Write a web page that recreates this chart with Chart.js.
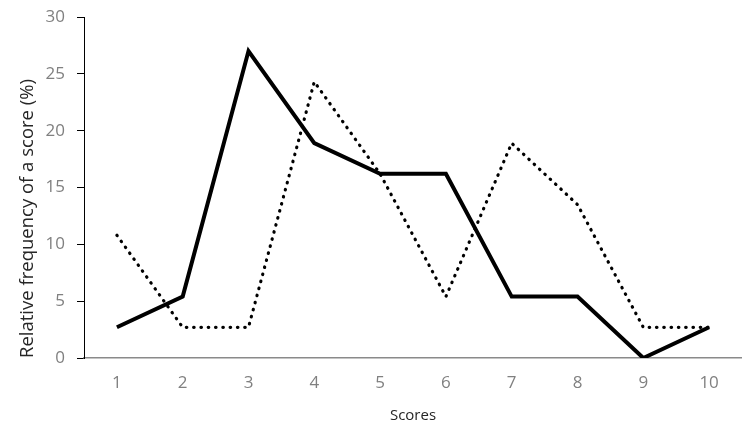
<!DOCTYPE html>
<html>
<head>
<meta charset="utf-8">
<script src="https://cdn.jsdelivr.net/npm/chart.js@4"></script>
<style>
  html, body { margin: 0; padding: 0; background: #fff; }
  #wrap { width: 742px; height: 429px; }
</style>
</head>
<body>
<div id="wrap"><canvas id="chart"></canvas></div>
<script>
// scores on the x axis
const scores = ['1', '2', '3', '4', '5', '6', '7', '8', '9', '10'];
// relative frequency (%) per score
const solidSeries = [2.7, 5.4, 27.0, 18.9, 16.2, 16.2, 5.4, 5.4, 0, 2.7];
const dottedSeries = [10.8, 2.7, 2.7, 24.3, 16.2, 5.4, 18.9, 13.5, 2.7, 2.7];
const yTicks = [0, 5, 10, 15, 20, 25, 30];

Chart.defaults.font.family = "'Open Sans', sans-serif";
Chart.defaults.color = '#808080';

new Chart(document.getElementById('chart'), {
  type: 'line',
  data: {
    labels: scores,
    datasets: [
      {
        data: solidSeries,
        borderColor: '#000',
        borderWidth: 4,
        pointRadius: 0,
        tension: 0
      },
      {
        data: dottedSeries,
        borderColor: '#000',
        borderWidth: 3.2,
        borderDash: [0.5, 6.8],
        borderCapStyle: 'round',
        pointRadius: 0,
        tension: 0
      }
    ]
  },
  options: {
    responsive: true,
    maintainAspectRatio: false,
    animation: false,
    layout: { padding: { top: 17, right: 0, left: 0, bottom: 0 } },
    plugins: {
      legend: { display: false },
      tooltip: { enabled: false }
    },
    scales: {
      x: {
        offset: true,
        grid: { display: false },
        border: { color: '#8a8a8a', width: 1.5 },
        ticks: { font: { size: 17 }, padding: 7 },
        title: {
          display: true,
          text: 'Scores',
          color: '#262626',
          font: { size: 15 },
          padding: { top: 3 }
        },
        afterFit: (s) => { s.height = 71; }
      },
      y: {
        min: 0,
        max: 30,
        afterBuildTicks: (s) => { s.ticks = yTicks.map(v => ({ value: v })); },
        grid: { drawOnChartArea: false, drawTicks: true, tickLength: 7, color: '#000' },
        border: { color: '#000', width: 1 },
        ticks: { font: { size: 17 }, padding: 12 },
        title: {
          display: true,
          text: 'Relative frequency of a score (%)',
          color: '#262626',
          align: 'start',
          font: { size: 18.5 },
          padding: { top: 17, bottom: 4 }
        },
        afterFit: (s) => {
          s.width = 84;
          s.paddingTop = 0;
        }
      }
    }
  }
});
</script>
</body>
</html>
